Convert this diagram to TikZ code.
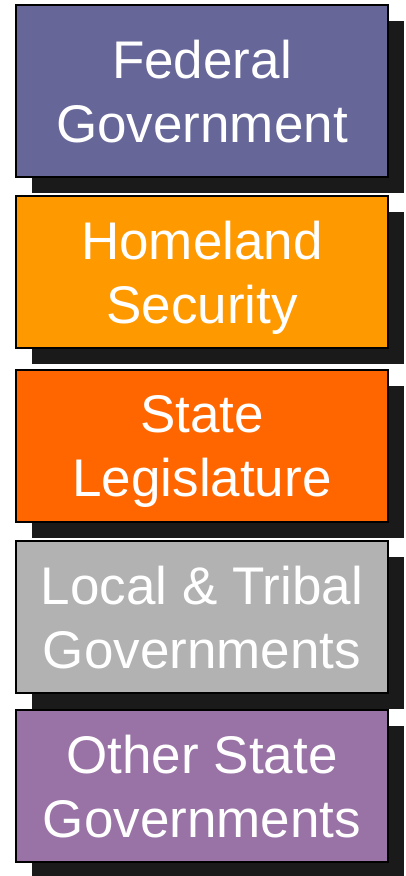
\documentclass[tikz,border=0pt]{standalone}
\usepackage{fontspec}
\setmainfont{Liberation Sans}
\usetikzlibrary{shadows}
\definecolor{fedc}{HTML}{666699}
\definecolor{homec}{HTML}{FF9900}
\definecolor{statec}{HTML}{FF6600}
\definecolor{localc}{HTML}{B2B2B2}
\definecolor{otherc}{HTML}{9A73A6}
\definecolor{shadowc}{HTML}{1A1A1A}
\begin{document}
\begin{tikzpicture}[x=1pt,y=-1pt,
  govbox/.style={draw=black, line width=2pt, minimum width=372pt, inner sep=0pt,
    text=white, align=center, font=\fontsize{53}{64}\selectfont, text depth=0pt,
    general shadow={fill=shadowc, draw=none, shadow xshift=16pt, shadow yshift=-16pt}}]
\useasboundingbox (0,0) rectangle (406,876);
\node[govbox, fill=fedc, minimum height=172pt] (fed) at (202,91) {Federal\\Government};
\node[govbox, fill=homec, minimum height=152pt] (home) at (202,272) {Homeland\\Security};
\node[govbox, fill=statec, minimum height=152pt] (state) at (202,446) {State\\Legislature};
\node[govbox, fill=localc, minimum height=152pt] (local) at (202,617) {Local \& Tribal\\Governments};
\node[govbox, fill=otherc, minimum height=152pt] (other) at (202,786) {Other State\\Governments};
\end{tikzpicture}
\end{document}
